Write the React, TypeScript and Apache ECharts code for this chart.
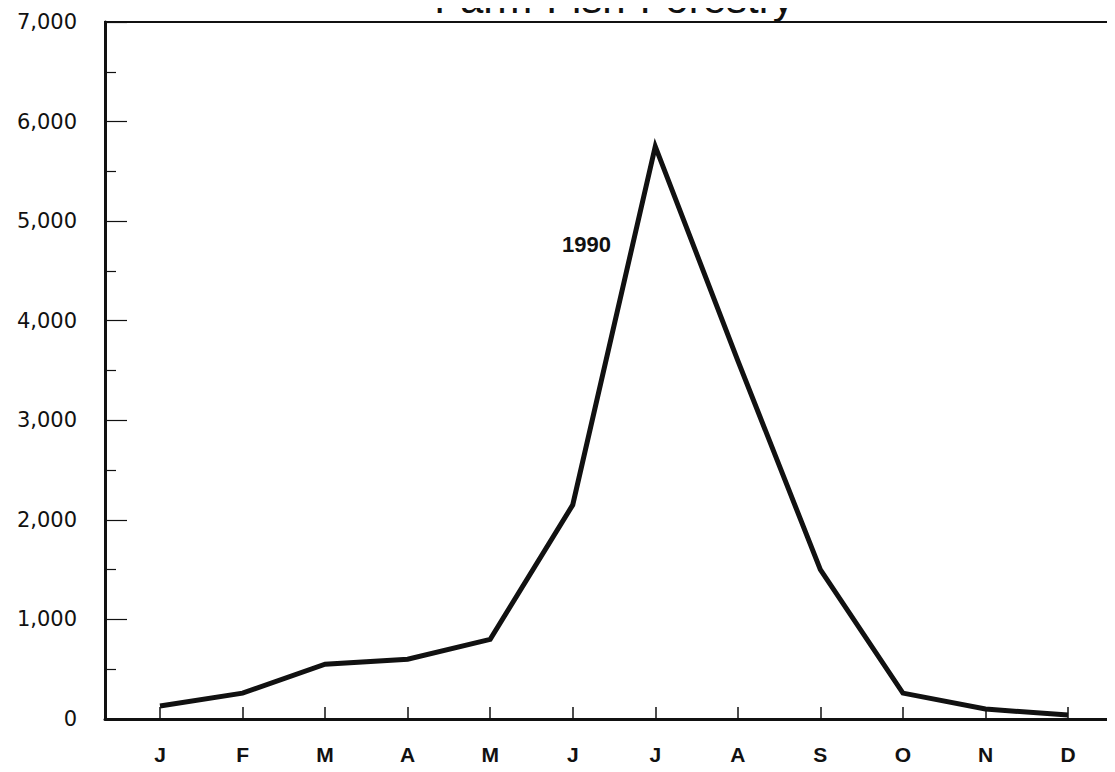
import React, { useEffect, useRef } from "react";
import * as echarts from "echarts";

const TITLE = "Farm-Fish-Forestry";
const SERIES_NAME = "1990";
const MONTHS = ["J", "F", "M", "A", "M", "J", "J", "A", "S", "O", "N", "D"];
const VALUES_1990 = [130, 260, 550, 600, 800, 2150, 5750, 3600, 1500, 260, 100, 40];
const Y_MIN = 0;
const Y_MAX = 7000;
const Y_STEP = 1000;

function fmt(v: number): string {
  return String(v).replace(/\B(?=(\d{3})+(?!\d))/g, ",");
}

export default function App() {
  const ref = useRef<HTMLDivElement>(null);
  useEffect(() => {
    if (!ref.current) return;
    const chart = echarts.init(ref.current, null, { renderer: "svg" });
    const ink = "#111";
    const font = "Liberation Sans, Arial, sans-serif";
    chart.setOption({
      animation: false,
      backgroundColor: "#fff",
      graphic: [
        {
          type: "text",
          x: 614,
          y: -2,
          style: {
            text: TITLE,
            fontSize: 42,
            fontFamily: font,
            fill: ink,
            align: "center",
            verticalAlign: "middle",
          },
        },
        {
          type: "text",
          x: 562,
          y: 244,
          style: {
            text: SERIES_NAME,
            fontSize: 22,
            fontWeight: "bold",
            fontFamily: font,
            fill: ink,
            align: "left",
            verticalAlign: "middle",
          },
        },
      ],
      grid: [
        {
          left: 105,
          right: -10,
          top: 22,
          bottom: 53,
          show: true,
          borderColor: ink,
          borderWidth: 2,
          backgroundColor: "transparent",
        },
        { left: 160, right: 47, top: 22, bottom: 53 },
      ],
      xAxis: [
        {
          gridIndex: 0,
          type: "value",
          min: 0,
          max: 1,
          axisLine: { show: true, lineStyle: { color: ink, width: 3 } },
          axisTick: { show: false },
          axisLabel: { show: false },
          splitLine: { show: false },
        },
        {
          gridIndex: 1,
          type: "category",
          data: MONTHS,
          boundaryGap: false,
          axisLine: { show: false },
          axisTick: { show: true, inside: true, length: 12, lineStyle: { color: ink, width: 1.5 } },
          axisLabel: {
            color: ink,
            fontSize: 21,
            fontWeight: "bold",
            fontFamily: font,
            margin: 25,
          },
          splitLine: { show: false },
        },
      ],
      yAxis: [
        {
          gridIndex: 0,
          type: "value",
          min: Y_MIN,
          max: Y_MAX,
          interval: Y_STEP,
          axisLine: { show: true, lineStyle: { color: ink, width: 3 } },
          axisTick: { show: true, inside: true, length: 22, lineStyle: { color: ink, width: 1.2 } },
          minorTick: { show: true, splitNumber: 2, length: 11, lineStyle: { color: ink, width: 1.2 } },
          axisLabel: {
            color: ink,
            fontSize: 21,
            fontFamily: "DejaVu Sans, sans-serif",
            margin: 28,
            formatter: (v: number) => fmt(v),
          },
          splitLine: { show: false },
          minorSplitLine: { show: false },
        },
        {
          gridIndex: 1,
          type: "value",
          min: Y_MIN,
          max: Y_MAX,
          show: false,
        },
      ],
      series: [
        {
          name: SERIES_NAME,
          type: "line",
          xAxisIndex: 1,
          yAxisIndex: 1,
          data: VALUES_1990,
          symbol: "none",
          lineStyle: { color: ink, width: 5, join: "miter" },
        },
      ],
    });
    return () => chart.dispose();
  }, []);
  return <div ref={ref} style={{ width: 1115, height: 772, margin: -8 }} />;
}
